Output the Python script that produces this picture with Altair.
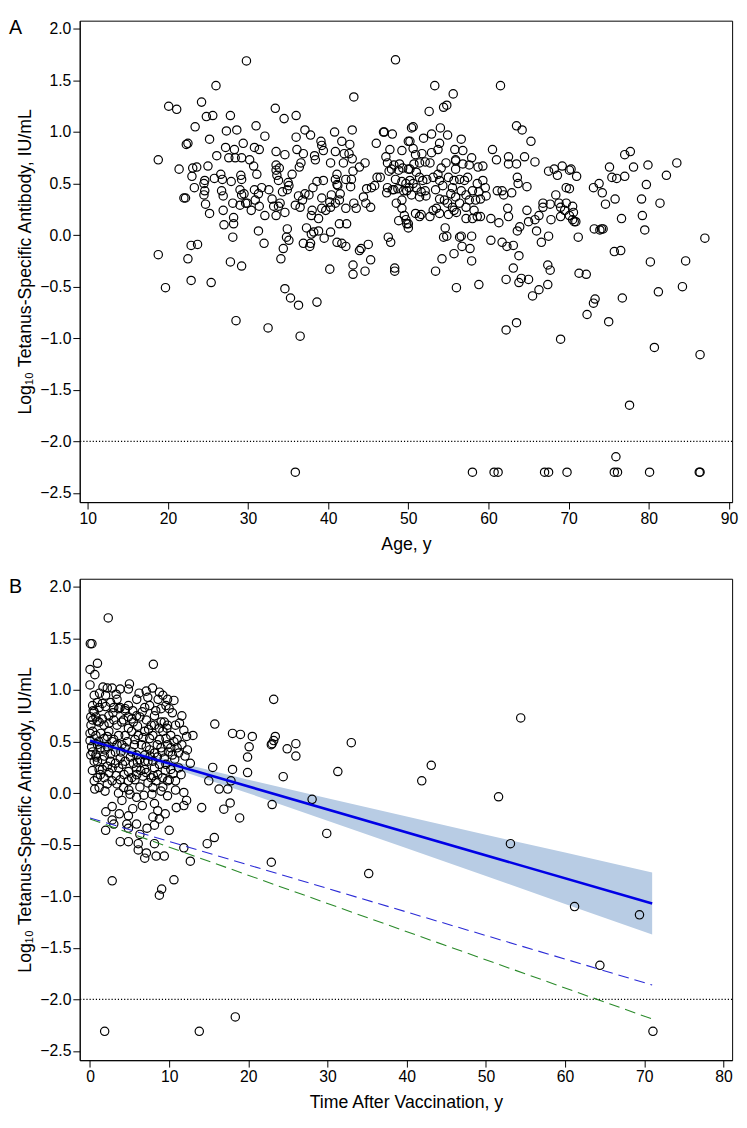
import altair as alt
import pandas as pd

# ---------------- Panel A: age vs log10 antibody ----------------
a_pts_18_30 = [
    (29.8, 1.69), (26.0, 1.45), (20.1, 1.25), (21.1, 1.22), (24.2, 1.29), (24.8, 1.15), (25.6, 1.16),
    (27.8, 1.16), (23.4, 1.05), (27.3, 1.01), (28.6, 1.02), (22.3, 0.88), (22.5, 0.89), (25.2, 0.93),
    (29.4, 0.89), (18.8, 0.73), (21.4, 0.64), (23.1, 0.65), (23.6, 0.66), (25.0, 0.67), (26.1, 0.77),
    (27.2, 0.85), (28.3, 0.83), (27.6, 0.75), (28.4, 0.75), (29.2, 0.75), (23.0, 0.57), (24.6, 0.53),
    (25.8, 0.55), (26.6, 0.59), (26.8, 0.54), (27.9, 0.52), (29.1, 0.58), (29.2, 0.54), (23.3, 0.46),
    (24.5, 0.50), (24.6, 0.43), (24.5, 0.39), (22.0, 0.36), (22.2, 0.36), (26.7, 0.43), (26.9, 0.38),
    (29.0, 0.44), (29.2, 0.39), (28.1, 0.31), (29.0, 0.29), (29.7, 0.31), (24.7, 0.30), (25.2, 0.21),
    (26.9, 0.24), (28.2, 0.17), (27.0, 0.10), (28.2, 0.11), (28.1, -0.02), (22.9, -0.10), (23.7, -0.09),
    (18.8, -0.19), (22.5, -0.23), (27.8, -0.26), (29.2, -0.30), (22.9, -0.44), (25.4, -0.46),
    (19.7, -0.51), (28.5, -0.83),
]
a_pts_30_50 = [
    (48.4, 1.70), (43.2, 1.34), (33.4, 1.23), (34.5, 1.13), (36.0, 1.16), (31.0, 1.06), (32.1, 0.96),
    (36.0, 0.95), (37.1, 1.02), (37.8, 0.97), (40.8, 1.00), (43.0, 1.02), (46.9, 1.00), (47.0, 1.00),
    (48.0, 0.98), (50.4, 1.04), (30.8, 0.85), (31.4, 0.83), (33.5, 0.81), (34.6, 0.78), (36.1, 0.83),
    (36.9, 0.79), (38.3, 0.77), (38.4, 0.73), (39.1, 0.91), (39.2, 0.87), (39.4, 0.82), (41.7, 0.91),
    (42.7, 0.88), (40.9, 0.81), (42.0, 0.79), (42.6, 0.79), (43.0, 0.74), (40.3, 0.70), (41.9, 0.70),
    (44.6, 0.70), (43.9, 0.66), (46.0, 0.89), (47.7, 0.83), (49.2, 0.82), (50.0, 0.91), (47.2, 0.76),
    (47.4, 0.70), (30.2, 0.73), (30.7, 0.67), (33.5, 0.68), (33.9, 0.65), (33.5, 0.63), (35.5, 0.59),
    (36.6, 0.70), (36.4, 0.66), (31.1, 0.59), (33.8, 0.53), (33.6, 0.58), (35.0, 0.51), (35.1, 0.48),
    (38.6, 0.52), (39.4, 0.53), (41.1, 0.59), (40.9, 0.54), (41.2, 0.48), (42.2, 0.54), (42.9, 0.54),
    (43.1, 0.62), (42.8, 0.47), (44.8, 0.45), (45.4, 0.46), (45.8, 0.48), (46.1, 0.56), (46.5, 0.56),
    (47.4, 0.46), (48.2, 0.44), (48.7, 0.45), (49.4, 0.43), (50.1, 0.46), (48.4, 0.54), (49.2, 0.52),
    (49.7, 0.50), (50.0, 0.64), (47.9, 0.64), (48.8, 0.63), (49.3, 0.65), (47.6, 0.62), (48.2, 0.68),
    (48.9, 0.69), (29.5, 0.40), (29.9, 0.31), (30.8, 0.44), (31.3, 0.40), (30.9, 0.34), (31.4, 0.28),
    (30.4, 0.24), (31.7, 0.46), (32.6, 0.44), (32.1, 0.19), (33.0, 0.35), (33.2, 0.28), (33.5, 0.19),
    (33.8, 0.28), (34.0, 0.31), (34.3, 0.42), (34.6, 0.22), (34.9, 0.44), (35.9, 0.29), (36.3, 0.38),
    (36.5, 0.27), (36.8, 0.34), (37.1, 0.40), (37.6, 0.39), (38.1, 0.46), (38.0, 0.24), (38.8, 0.16),
    (37.9, 0.19), (39.2, 0.36), (39.2, 0.26), (39.7, 0.24), (40.2, 0.32), (40.4, 0.39), (40.3, 0.27),
    (40.9, 0.31), (41.1, 0.49), (41.5, 0.40), (41.4, 0.34), (42.2, 0.26), (43.2, 0.31), (43.5, 0.26),
    (44.4, 0.37), (44.7, 0.31), (45.3, 0.27), (47.3, 0.41), (48.0, 0.44), (48.5, 0.31), (49.2, 0.34),
    (49.2, 0.26), (48.8, 0.14), (49.5, 0.19), (49.7, 0.15), (49.8, 0.11), (50.0, 0.07), (31.3, 0.04),
    (32.0, -0.08), (34.9, 0.06), (34.8, -0.02), (35.1, -0.05), (34.4, -0.13), (34.1, -0.23),
    (37.3, 0.07), (37.9, 0.01), (38.2, 0.03), (36.9, -0.08), (37.8, -0.08), (37.7, -0.11), (38.8, 0.04),
    (39.5, -0.03), (40.3, 0.03), (41.1, -0.07), (41.7, -0.08), (42.2, -0.11), (41.4, 0.11), (42.3, 0.11),
    (43.9, -0.15), (44.1, -0.13), (45.0, -0.09), (45.3, -0.24), (40.2, -0.33), (43.1, -0.29),
    (43.1, -0.38), (44.6, -0.35), (48.3, -0.32), (48.3, -0.35), (47.5, -0.02), (47.8, -0.07),
    (34.6, -0.52), (35.3, -0.61), (36.3, -0.68), (38.6, -0.65), (32.5, -0.90), (36.5, -0.98),
]
a_pts_50_70 = [
    (53.3, 1.45), (55.6, 1.37), (61.5, 1.45), (52.6, 1.20), (54.4, 1.24), (54.8, 1.26), (50.6, 1.05),
    (51.9, 0.94), (52.9, 0.98), (54.0, 1.04), (54.9, 0.97), (56.6, 0.93), (50.2, 0.91), (50.6, 0.84),
    (50.9, 0.78), (51.7, 0.79), (52.9, 0.80), (53.7, 0.83), (53.9, 0.89), (55.8, 0.83), (55.9, 0.73),
    (56.8, 0.82), (57.9, 0.75), (60.5, 0.83), (61.0, 0.73), (62.5, 0.76), (63.5, 0.69), (64.5, 0.76),
    (65.8, 0.71), (63.5, 1.06), (64.2, 1.02), (65.3, 0.91), (67.5, 0.62), (68.2, 0.64), (69.2, 0.67),
    (70.1, 0.63), (68.6, 0.58), (50.2, 0.64), (50.7, 0.69), (51.4, 0.70), (52.1, 0.71), (52.7, 0.70),
    (51.0, 0.61), (51.4, 0.56), (51.8, 0.53), (52.3, 0.54), (50.2, 0.53), (50.6, 0.50), (49.8, 0.43),
    (51.0, 0.46), (51.6, 0.42), (52.1, 0.43), (50.4, 0.39), (51.4, 0.37), (52.2, 0.38), (53.1, 0.56),
    (53.7, 0.59), (53.9, 0.53), (53.4, 0.44), (54.3, 0.48), (54.1, 0.65), (54.7, 0.70), (55.9, 0.72),
    (55.9, 0.64), (56.8, 0.69), (57.6, 0.68), (58.7, 0.66), (59.3, 0.67), (55.0, 0.56), (55.7, 0.53),
    (56.4, 0.54), (57.0, 0.53), (57.4, 0.56), (55.5, 0.46), (55.3, 0.40), (55.9, 0.37), (56.6, 0.43),
    (57.2, 0.39), (58.0, 0.43), (58.6, 0.50), (58.8, 0.42), (59.3, 0.53), (59.6, 0.46), (59.7, 0.38),
    (53.9, 0.35), (54.5, 0.34), (54.9, 0.31), (53.5, 0.26), (53.1, 0.24), (51.6, 0.20), (50.9, 0.21),
    (51.4, 0.18), (52.7, 0.18), (50.0, 0.11), (53.9, 0.21), (55.0, 0.20), (55.7, 0.24), (56.0, 0.22),
    (55.5, 0.27), (56.4, 0.31), (57.2, 0.27), (58.2, 0.24), (57.2, 0.16), (58.0, 0.16), (58.6, 0.18),
    (59.0, 0.18), (57.6, 0.34), (58.4, 0.34), (59.0, 0.35), (54.6, 0.07), (54.4, -0.02), (54.8, -0.01),
    (56.4, -0.02), (56.6, -0.01), (57.9, -0.01), (56.7, -0.11), (57.7, -0.13), (55.7, -0.18),
    (54.2, -0.23), (57.9, -0.25), (53.4, -0.35), (56.0, -0.51), (58.8, -0.48), (60.3, 0.16), (61.3, 0.12),
    (60.3, -0.05), (61.7, -0.07), (62.3, -0.11), (63.1, -0.10), (63.8, -0.20), (63.1, -0.32),
    (62.2, -0.43), (63.8, -0.46), (64.1, -0.42), (65.0, -0.43), (62.4, 0.26), (62.5, 0.18), (61.7, 0.43),
    (61.9, 0.39), (61.1, 0.43), (62.9, 0.41), (63.6, 0.56), (63.7, 0.50), (64.8, 0.47), (62.5, 0.69),
    (63.9, 0.08), (63.6, 0.04), (65.0, 0.13), (65.8, 0.15), (66.3, 0.19), (66.0, 0.04), (64.8, 0.24),
    (66.8, 0.31), (66.8, 0.27), (67.7, 0.30), (67.8, 0.15), (67.5, -0.01), (66.6, -0.07), (67.4, -0.29),
    (67.7, -0.34), (67.4, -0.48), (66.3, -0.53), (65.5, -0.59), (62.2, -0.92), (63.5, -0.85),
    (69.0, -1.01), (68.4, 0.39), (69.0, 0.27), (69.5, 0.24), (70.1, 0.19), (70.5, 0.15), (68.8, 0.31),
    (69.7, 0.31), (69.0, 0.18), (69.7, 0.46),
]
a_pts_70_90 = [
    (77.0, 0.78), (77.7, 0.81), (75.1, 0.66), (78.1, 0.66), (79.9, 0.68), (83.5, 0.70), (82.2, 0.58),
    (79.7, 0.49), (77.0, 0.57), (75.4, 0.56), (76.0, 0.55), (73.8, 0.50), (73.1, 0.46), (74.2, 0.41),
    (70.3, 0.64), (71.0, 0.57), (70.1, 0.45), (75.8, 0.35), (74.6, 0.30), (79.1, 0.35), (81.4, 0.31),
    (70.5, 0.28), (70.6, 0.22), (70.7, 0.13), (70.9, 0.13), (76.6, 0.16), (79.2, 0.19), (79.5, 0.05),
    (73.2, 0.06), (73.9, 0.05), (74.1, 0.06), (74.3, 0.06), (71.2, -0.02), (87.0, -0.03), (75.7, -0.16),
    (76.5, -0.15), (80.2, -0.26), (84.6, -0.25), (71.3, -0.37), (72.2, -0.38), (81.2, -0.55),
    (84.2, -0.50), (76.7, -0.61), (73.3, -0.62), (73.1, -0.66), (72.3, -0.77), (75.0, -0.84),
    (80.7, -1.09), (86.4, -1.16), (77.6, -1.65),
]
a_pts_below_lod = [
    (35.9, -2.30), (58.0, -2.30), (60.7, -2.30), (61.2, -2.30), (67.0, -2.30), (67.5, -2.30),
    (69.8, -2.30), (75.7, -2.30), (76.1, -2.30), (80.1, -2.30), (86.3, -2.30), (86.4, -2.30),
    (75.9, -2.15),
]

# ---------------- Panel B: time after vaccination ----------------
b_pts_cluster = [
    (2.3, 1.70), (0.04, 1.45), (0.24, 1.45), (0.0, 1.20), (0.61, 1.15), (0.94, 1.26), (8.0, 1.25),
    (0.0, 1.05), (1.64, 1.03), (2.18, 1.02), (2.8, 1.02), (3.8, 1.01), (4.98, 1.06), (4.85, 1.01),
    (7.1, 0.99), (7.9, 1.02), (8.76, 0.98), (9.8, 0.91), (7.3, 0.93), (5.9, 0.91), (8.6, 0.91),
    (0.53, 0.95), (0.94, 0.88), (0.33, 0.85), (0.53, 0.79), (0.74, 0.74), (0.1, 0.74), (0.12, 0.66),
    (1.15, 0.69), (1.77, 0.66), (2.38, 0.75), (3.0, 0.83), (3.8, 0.83), (4.44, 0.82), (4.85, 0.74),
    (1.97, 0.95), (2.6, 0.88), (3.41, 0.91), (1.56, 0.87), (0.74, 0.56), (0.94, 0.47), (0.74, 0.37),
    (0.94, 0.31), (1.15, 0.23), (1.77, 0.53), (2.38, 0.60), (2.8, 0.50), (3.21, 0.40), (3.82, 0.34),
    (4.03, 0.47), (4.44, 0.56), (4.85, 0.63), (5.47, 0.69), (5.88, 0.75), (6.09, 0.56), (6.5, 0.47),
    (6.91, 0.37), (7.32, 0.31), (7.73, 0.66), (8.14, 0.75), (7.94, 0.56), (8.76, 0.63), (9.38, 0.69),
    (9.79, 0.66), (9.59, 0.53), (9.79, 0.47), (10.6, 0.50), (11.0, 0.44), (10.4, 0.37), (9.38, 0.34),
    (8.76, 0.28), (8.14, 0.245), (6.91, 0.23), (5.88, 0.245), (4.85, 0.21), (3.62, 0.245),
    (2.8, 0.245), (2.18, 0.26), (1.56, 0.23), (0.94, 0.15), (1.15, 0.055), (1.77, 0.15), (2.8, 0.12),
    (3.82, 0.13), (4.85, 0.12), (5.68, 0.13), (6.7, 0.165), (7.73, 0.15), (8.56, 0.18), (9.17, 0.15),
    (10.0, 0.13), (10.8, 0.12), (12.67, 0.29), (11.85, 0.61), (13.0, 0.56), (0.0, 0.58), (0.0, 0.51),
    (0.33, 0.40), (0.1, 0.37),
    (1.15, 0.83), (1.97, 0.84), (3.62, 0.82), (4.44, 0.80), (4.85, 0.85), (6.91, 0.83), (7.53, 0.85),
    (8.97, 0.82), (9.59, 0.85), (10.0, 0.82), (0.33, 0.71), (1.56, 0.72), (3.0, 0.71), (3.41, 0.66),
    (4.24, 0.71), (5.26, 0.72), (6.29, 0.74), (7.12, 0.71), (8.14, 0.66), (8.97, 0.69), (9.71, 0.63),
    (10.8, 0.66), (0.33, 0.60), (1.35, 0.58), (2.18, 0.55), (3.62, 0.56), (5.26, 0.60), (5.68, 0.52),
    (6.91, 0.60), (7.53, 0.53), (8.76, 0.52), (10.2, 0.56), (11.0, 0.52), (1.35, 0.44), (2.18, 0.45),
    (3.41, 0.47), (4.44, 0.44), (5.26, 0.40), (5.88, 0.37), (7.53, 0.42), (8.14, 0.39), (8.97, 0.44),
    (10.2, 0.44), (11.2, 0.39), (0.53, 0.31), (1.56, 0.325), (2.59, 0.31), (3.21, 0.29), (4.44, 0.31),
    (5.47, 0.29), (6.29, 0.325), (6.91, 0.31), (7.94, 0.31), (9.59, 0.28), (10.2, 0.23), (11.2, 0.245),
    (0.53, 0.12), (2.18, 0.09), (3.41, 0.09), (4.24, 0.055), (5.26, 0.15), (7.32, 0.10), (8.35, 0.12),
    (9.79, 0.12),
]
b_pts_cluster_more = [
    (1.2, 0.97), (3.3, 0.96), (6.2, 0.97), (9.2, 0.95), (10.6, 0.90),
    (0.4, 0.80), (2.9, 0.78), (5.4, 0.80), (6.6, 0.79), (8.3, 0.80), (10.4, 0.78), (11.6, 0.75),
    (0.9, 0.70), (2.4, 0.68), (4.0, 0.69), (6.0, 0.65), (7.4, 0.62), (9.2, 0.60), (11.3, 0.68),
    (12.2, 0.55), (0.2, 0.45), (1.1, 0.50), (1.9, 0.42), (3.0, 0.52), (4.7, 0.50), (5.6, 0.47),
    (6.7, 0.54), (7.1, 0.45), (8.5, 0.47), (9.9, 0.40), (11.6, 0.47), (12.3, 0.42),
    (0.8, 0.35), (1.8, 0.36), (2.6, 0.38), (3.9, 0.40), (4.1, 0.28), (5.1, 0.35), (6.0, 0.30),
    (7.6, 0.36), (8.5, 0.35), (9.1, 0.40), (10.7, 0.33), (12.0, 0.36),
    (0.3, 0.22), (1.3, 0.18), (2.4, 0.20), (3.3, 0.17), (4.3, 0.18), (5.9, 0.18), (6.4, 0.22),
    (7.1, 0.20), (8.0, 0.17), (9.5, 0.22), (10.5, 0.19), (11.5, 0.18),
    (0.6, 0.04), (1.9, 0.02), (3.6, 0.00), (4.9, 0.03), (6.3, 0.06), (6.8, -0.02), (9.2, 0.06),
    (10.8, 0.03), (2.0, -0.18), (3.7, -0.20), (5.4, -0.15), (6.6, -0.12), (7.2, -0.34), (9.5, -0.20),
    (10.9, -0.14), (6.3, -0.40),
]
b_pts_low = [
    (7.94, 0.055), (7.82, -0.01), (8.97, 0.02), (9.79, -0.025), (8.14, -0.10), (8.56, -0.17),
    (7.94, -0.23), (8.14, -0.31), (8.76, -0.25), (10.0, -0.36), (11.85, 0.007), (12.2, -0.07),
    (11.85, -0.12), (14.1, -0.14), (2.8, -0.13), (5.06, -0.01), (5.88, -0.04), (4.03, -0.07),
    (1.97, -0.36), (2.8, -0.26), (3.0, -0.30), (4.85, -0.22), (4.65, -0.30), (4.85, -0.34),
    (5.88, -0.30), (3.82, -0.47), (4.85, -0.47), (6.09, -0.49), (6.09, -0.55), (6.91, -0.63),
    (7.12, -0.58), (8.35, -0.61), (9.38, -0.61), (8.14, -0.49), (11.85, -0.53), (12.67, -0.66),
    (2.8, -0.85), (10.6, -0.84), (8.76, -0.99), (9.05, -0.93),
]
b_pts_sparse = [
    (23.2, 0.91), (54.4, 0.73), (15.76, 0.67), (18.0, 0.58), (19.0, 0.57), (20.5, 0.55), (23.0, 0.48),
    (23.2, 0.51), (23.4, 0.55), (22.9, 0.47), (26.0, 0.48), (24.9, 0.43), (26.0, 0.36), (20.1, 0.45),
    (19.9, 0.35), (19.9, 0.20), (33.0, 0.49), (15.5, 0.25), (18.0, 0.23), (15.0, 0.12), (17.8, 0.12),
    (16.3, 0.04), (17.4, 0.04), (24.4, 0.16), (31.3, 0.21), (43.1, 0.27), (41.9, 0.12), (51.6, -0.035),
    (28.05, -0.06), (23.0, -0.11), (17.7, -0.095), (16.9, -0.155), (18.9, -0.24), (29.9, -0.39),
    (15.7, -0.43), (14.8, -0.49), (53.1, -0.49), (22.9, -0.67), (35.2, -0.78), (61.2, -1.10),
    (69.4, -1.18), (64.4, -1.67),
]
b_pts_below_lod = [(1.85, -2.31), (13.8, -2.31), (18.35, -2.17), (71.1, -2.31)]

# regression fit, its confidence band and the two dashed reference lines
fit_x = [0, 71]
fit_y = [0.51, -1.07]
band_x = [0, 5, 10, 20, 30, 40, 50, 60, 71]
band_lo = [0.465, 0.368, 0.255, 0.0, -0.268, -0.535, -0.803, -1.075, -1.37]
band_hi = [0.555, 0.430, 0.320, 0.13, -0.048, -0.225, -0.403, -0.575, -0.77]
blue_dash_x = [0, 71]
blue_dash_y = [-0.24, -1.86]
green_dash_x = [0, 71]
green_dash_y = [-0.25, -2.19]
lod_value = -2.0

y_ticks = [-2.5, -2.0, -1.5, -1.0, -0.5, 0.0, 0.5, 1.0, 1.5, 2.0]
a_x_ticks = [10, 20, 30, 40, 50, 60, 70, 80, 90]
b_x_ticks = [0, 10, 20, 30, 40, 50, 60, 70, 80]

FONT = "Liberation Sans"
W, H = 664, 490
Y_TITLE = "Log\u2081\u2080 Tetanus-Specific Antibody, IU/mL"


def pts_df(*groups):
    rows = [p for g in groups for p in g]
    return pd.DataFrame({"x": [r[0] for r in rows], "y": [r[1] for r in rows]})


def panel(points, x_dom, x_ticks, x_title, label, extra_layers):
    xs = alt.Scale(domain=x_dom, nice=False, zero=False)
    ys = alt.Scale(domain=[-2.59, 2.08], nice=False, zero=False)
    xa = alt.Axis(values=x_ticks, format="d", title=x_title, titlePadding=9)
    ya = alt.Axis(values=y_ticks, format=".1f", title=Y_TITLE, titlePadding=6)

    def X(f):
        return alt.X(f, scale=xs, axis=xa)

    def Y(f):
        return alt.Y(f, scale=ys, axis=ya)

    layers = []
    for kind, spec in extra_layers:
        if kind == "band":
            df = pd.DataFrame({"x": band_x, "y": band_lo, "y2": band_hi})
            layers.append(("pre", alt.Chart(df).mark_area(color="#b8cce4", opacity=1).encode(
                x=X("x:Q"), y=Y("y:Q"), y2="y2:Q")))
        else:
            xv, yv, color, width, dash = spec
            df = pd.DataFrame({"x": xv, "y": yv})
            kw = dict(color=color, strokeWidth=width)
            if dash:
                kw["strokeDash"] = dash
            layers.append(("post", alt.Chart(df).mark_line(**kw).encode(x=X("x:Q"), y=Y("y:Q"))))

    rule = alt.Chart(pd.DataFrame({"y": [lod_value]})).mark_rule(
        color="black", strokeWidth=1.2, strokeDash=[1.2, 2.0]).encode(y=Y("y:Q"))
    dots = alt.Chart(points).mark_point(
        shape="circle", filled=False, size=72, color="black", strokeWidth=1.2, opacity=1
    ).encode(x=X("x:Q"), y=Y("y:Q"))
    tag = alt.Chart(pd.DataFrame({"t": [label]})).mark_text(
        align="left", baseline="top", fontSize=20, font=FONT, color="black"
    ).encode(x=alt.value(-72), y=alt.value(-2), text="t:N")

    pre = [c for k, c in layers if k == "pre"]
    post = [c for k, c in layers if k == "post"]
    return alt.layer(*pre, rule, dots, *post, tag).properties(width=W, height=H)


chart_a = panel(pts_df(a_pts_18_30, a_pts_30_50, a_pts_50_70, a_pts_70_90, a_pts_below_lod),
                [9.0, 90.4], a_x_ticks, "Age, y", "A", [])
chart_b = panel(pts_df(b_pts_cluster, b_pts_cluster_more, b_pts_low, b_pts_sparse, b_pts_below_lod),
                [-1.3, 81.1], b_x_ticks, "Time After Vaccination, y", "B",
                [("band", None),
                 ("line", (blue_dash_x, blue_dash_y, "#2a2ad6", 1.1, [11, 6])),
                 ("line", (green_dash_x, green_dash_y, "#2a8a2a", 1.1, [11, 6])),
                 ("line", (fit_x, fit_y, "#0000e6", 2.6, None))])

chart = alt.vconcat(chart_a, chart_b, spacing=22).properties(
    padding={"left": 0, "top": 0, "right": 0, "bottom": 0}, background="white"
).configure_view(stroke="black", strokeWidth=1).configure_axis(
    grid=False, domainColor="black", tickColor="black", labelColor="black", titleColor="black",
    tickSize=7, labelFontSize=16, titleFontSize=18, labelFont=FONT, titleFont=FONT,
    titleFontWeight="normal", labelPadding=2, domainWidth=1, tickWidth=1
)

chart.save("out.html", embed_options={"renderer": "svg", "actions": False})
